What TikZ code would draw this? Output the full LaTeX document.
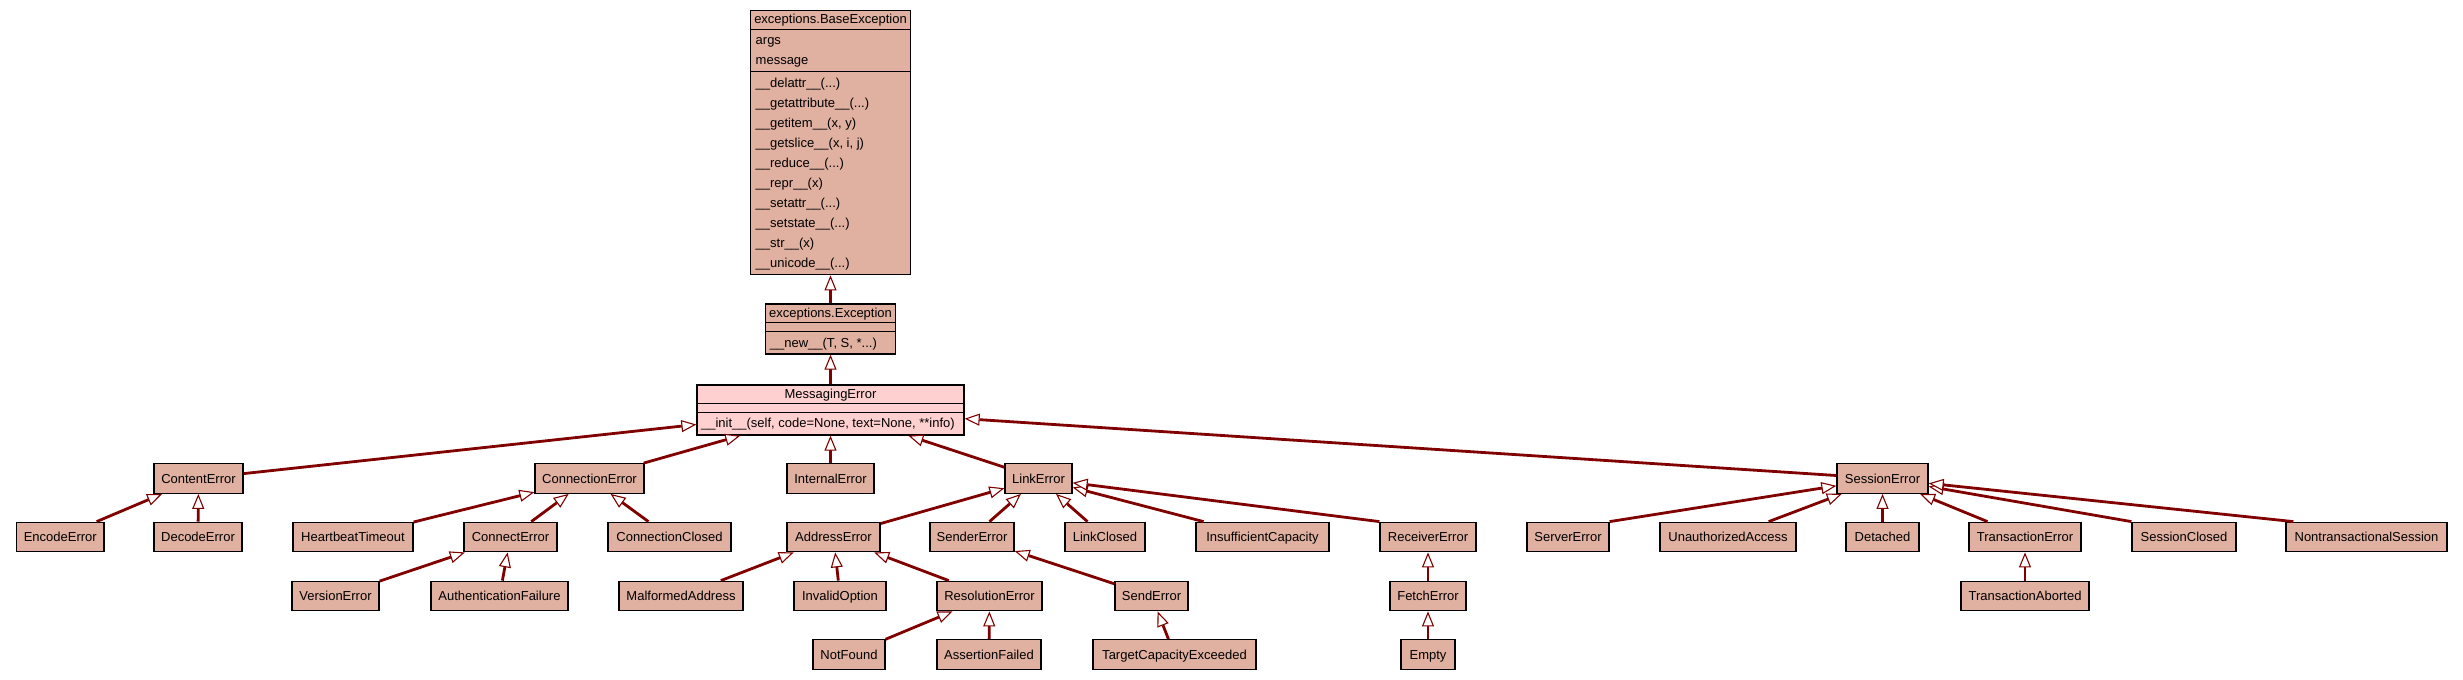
\documentclass[tikz,border=0pt]{standalone}
\usepackage{fontspec}
\setmainfont{Liberation Sans}
\usetikzlibrary{arrows.meta}
\definecolor{nodebg}{HTML}{E0B0A0}
\definecolor{selbg}{HTML}{FFD0D0}
\definecolor{inhcol}{HTML}{800000}
\tikzset{
  txt/.style={inner sep=0pt, text height=6pt, text depth=1.35pt, font=\fontsize{6.5pt}{7.8pt}\selectfont},
  cls/.style={txt, draw=black, line width=0.65pt, fill=nodebg, minimum height=14.75pt},
  rec/.style={draw=black, line width=0.65pt, inner sep=0pt},
  sepline/.style={draw=black, line width=0.65pt},
  lbl/.style={txt, anchor=west},
  hdr/.style={txt},
  inhline/.style={draw=inhcol, line width=1.4pt, -{Triangle[length=7.5pt, width=6pt, line width=0.55pt, fill=white]}}
}
\begin{document}
\begin{tikzpicture}[x=0.5pt, y=-0.5pt]
\useasboundingbox (0,0) rectangle (2463,680);

% ---- record boxes ----
\node[rec, fill=nodebg, minimum width=80pt, minimum height=132pt] (BaseException) at (830.5,142.7) {};
\draw[sepline] (750.5,29.3) -- (910.5,29.3);
\draw[sepline] (750.5,71.7) -- (910.5,71.7);
\node[hdr] (beh) at (830.5,18.5) {exceptions.BaseException};
\node[lbl] (bea1) at (755.3,40) {args};
\node[lbl] (bea2) at (755.3,60) {message};
\node[lbl] (bem1) at (755.3,82.7) {\_\_delattr\_\_(...)};
\node[lbl] (bem2) at (755.3,102.7) {\_\_getattribute\_\_(...)};
\node[lbl] (bem3) at (755.3,122.7) {\_\_getitem\_\_(x, y)};
\node[lbl] (bem4) at (755.3,142.7) {\_\_getslice\_\_(x, i, j)};
\node[lbl] (bem5) at (755.3,162.7) {\_\_reduce\_\_(...)};
\node[lbl] (bem6) at (755.3,182.7) {\_\_repr\_\_(x)};
\node[lbl] (bem7) at (755.3,202.7) {\_\_setattr\_\_(...)};
\node[lbl] (bem8) at (755.3,222.7) {\_\_setstate\_\_(...)};
\node[lbl] (bem9) at (755.3,242.7) {\_\_str\_\_(x)};
\node[lbl] (bem10) at (755.3,262.7) {\_\_unicode\_\_(...)};

\node[rec, fill=nodebg, minimum width=65pt, minimum height=25pt] (Exception) at (830.5,329) {};
\draw[sepline] (765.5,322.7) -- (895.5,322.7);
\draw[sepline] (765.5,331.7) -- (895.5,331.7);
\node[hdr] (exh) at (830.5,313.3) {exceptions.Exception};
\node[lbl] (exm1) at (769.5,342.7) {\_\_new\_\_(T, S, *...)};

\node[rec, fill=selbg, minimum width=133.5pt, minimum height=25pt] (MessagingError) at (830.5,410) {};
\draw[sepline] (697,403.3) -- (964,403.3);
\draw[sepline] (697,412.3) -- (964,412.3);
\node[hdr] (meh) at (830.5,393.5) {MessagingError};
\node[lbl] (mem1) at (700.7,423.3) {\_\_init\_\_(self, code=None, text=None, **info)};

% ---- row 1 ----
\node[cls, minimum width=44.5pt] (ContentError) at (198.5,478.5) {ContentError};
\node[cls, minimum width=54.5pt] (ConnectionError) at (589.5,478.5) {ConnectionError};
\node[cls, minimum width=43.5pt] (InternalError) at (830.5,478.5) {InternalError};
\node[cls, minimum width=33.5pt] (LinkError) at (1038.5,478.5) {LinkError};
\node[cls, minimum width=45.5pt] (SessionError) at (1882.5,478.5) {SessionError};

% ---- row 2 ----
\node[cls, minimum width=43.75pt] (EncodeError) at (60.25,537) {EncodeError};
\node[cls, minimum width=44pt] (DecodeError) at (198,537) {DecodeError};
\node[cls, minimum width=60pt] (HeartbeatTimeout) at (353,537) {HeartbeatTimeout};
\node[cls, minimum width=46.5pt] (ConnectError) at (510.5,537) {ConnectError};
\node[cls, minimum width=61.5pt] (ConnectionClosed) at (669.5,537) {ConnectionClosed};
\node[cls, minimum width=46.5pt] (AddressError) at (833.5,537) {AddressError};
\node[cls, minimum width=42pt] (SenderError) at (972,537) {SenderError};
\node[cls, minimum width=40pt] (LinkClosed) at (1105,537) {LinkClosed};
\node[cls, minimum width=66.5pt] (InsufficientCapacity) at (1262.5,537) {InsufficientCapacity};
\node[cls, minimum width=48pt] (ReceiverError) at (1428,537) {ReceiverError};
\node[cls, minimum width=41pt] (ServerError) at (1568,537) {ServerError};
\node[cls, minimum width=68pt] (UnauthorizedAccess) at (1728,537) {UnauthorizedAccess};
\node[cls, minimum width=36.5pt] (Detached) at (1882.5,537) {Detached};
\node[cls, minimum width=56pt] (TransactionError) at (2025,537) {TransactionError};
\node[cls, minimum width=52pt] (SessionClosed) at (2184,537) {SessionClosed};
\node[cls, minimum width=80.5pt] (NontransactionalSession) at (2366.5,537) {NontransactionalSession};

% ---- row 3 ----
\node[cls, minimum width=43.5pt] (VersionError) at (335.5,596) {VersionError};
\node[cls, minimum width=68.5pt] (AuthenticationFailure) at (499.5,596) {AuthenticationFailure};
\node[cls, minimum width=62pt] (MalformedAddress) at (681,596) {MalformedAddress};
\node[cls, minimum width=46pt] (InvalidOption) at (840,596) {InvalidOption};
\node[cls, minimum width=52.5pt] (ResolutionError) at (989.5,596) {ResolutionError};
\node[cls, minimum width=36.5pt] (SendError) at (1151.5,596) {SendError};
\node[cls, minimum width=38pt] (FetchError) at (1428,596) {FetchError};
\node[cls, minimum width=64pt] (TransactionAborted) at (2025,596) {TransactionAborted};

% ---- row 4 ----
\node[cls, minimum width=36pt] (NotFound) at (849,654.5) {NotFound};
\node[cls, minimum width=52pt] (AssertionFailed) at (989,654.5) {AssertionFailed};
\node[cls, minimum width=81.5pt] (TargetCapacityExceeded) at (1174.5,654.5) {TargetCapacityExceeded};
\node[cls, minimum width=27pt] (Empty) at (1428,654.5) {Empty};

% ---- inheritance edges ----
\draw[inhline] (Exception) -- (BaseException);
\draw[inhline] (MessagingError) -- (Exception);
\draw[inhline] (ContentError) -- (MessagingError);
\draw[inhline] (ConnectionError) -- (MessagingError);
\draw[inhline] (InternalError) -- (MessagingError);
\draw[inhline] (LinkError) -- (MessagingError);
\draw[inhline] (SessionError) -- (MessagingError);

\draw[inhline] (EncodeError) -- (ContentError);
\draw[inhline] (DecodeError) -- (ContentError);

\draw[inhline] (HeartbeatTimeout) -- (ConnectionError);
\draw[inhline] (ConnectError) -- (ConnectionError);
\draw[inhline] (ConnectionClosed) -- (ConnectionError);
\draw[inhline] (VersionError) -- (ConnectError);
\draw[inhline] (AuthenticationFailure) -- (ConnectError);

\draw[inhline] (AddressError) -- (LinkError);
\draw[inhline] (SenderError) -- (LinkError);
\draw[inhline] (LinkClosed) -- (LinkError);
\draw[inhline] (InsufficientCapacity) -- (LinkError);
\draw[inhline] (ReceiverError.north west) -- (LinkError);

\draw[inhline] (MalformedAddress) -- (AddressError);
\draw[inhline] (InvalidOption) -- (AddressError);
\draw[inhline] (ResolutionError) -- (AddressError);
\draw[inhline] (NotFound) -- (ResolutionError);
\draw[inhline] (AssertionFailed) -- (ResolutionError);

\draw[inhline] (SendError) -- (SenderError);
\draw[inhline] (TargetCapacityExceeded) -- (SendError);

\draw[inhline] (FetchError) -- (ReceiverError);
\draw[inhline] (Empty) -- (FetchError);

\draw[inhline] (ServerError.north east) -- (SessionError);
\draw[inhline] (UnauthorizedAccess) -- (SessionError);
\draw[inhline] (Detached) -- (SessionError);
\draw[inhline] (TransactionError) -- (SessionError);
\draw[inhline] (SessionClosed.north west) -- (SessionError);
\draw[inhline] ([xshift=4pt]NontransactionalSession.north west) -- (SessionError);
\draw[inhline] (TransactionAborted) -- (TransactionError);
\end{tikzpicture}
\end{document}
